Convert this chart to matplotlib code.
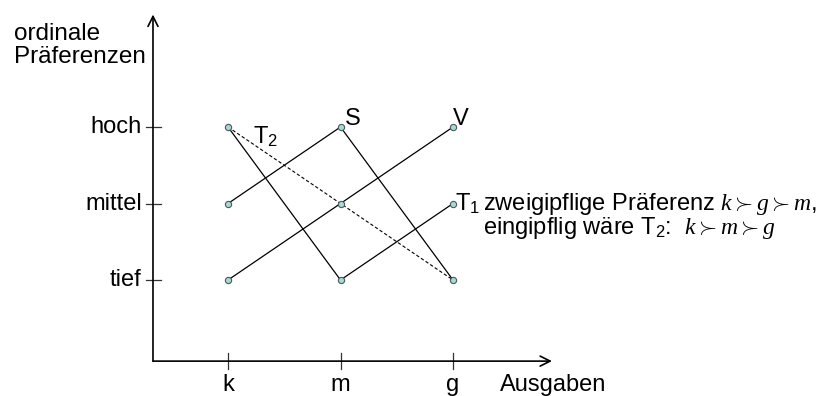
import matplotlib.pyplot as plt

plt.rcParams['font.family'] = ['Liberation Sans', 'DejaVu Sans']
plt.rcParams['mathtext.fontset'] = 'custom'
plt.rcParams['mathtext.rm'] = 'Liberation Sans'
plt.rcParams['mathtext.it'] = 'Liberation Serif:italic'

# Ausgaben (x) und ordinale Stufen (y)
ausgaben = ['k', 'm', 'g']
stufen = ['tief', 'mittel', 'hoch']
xpos = [1, 2, 3]
ypos = [1, 2, 3]

# Präferenzen je Wähler: Stufe bei k, m, g
S = [2, 3, 1]
V = [1, 2, 3]
T1 = [3, 1, 2]
T2_x = [1, 3]
T2_y = [3, 1]

fig = plt.figure(figsize=(8.32, 3.96), dpi=100)
ax = fig.add_axes([0, 0, 1, 1])
ax.set_xlim(-1.027, 6.369)
ax.set_ylim(-0.516, 4.66)
ax.axis('off')

fs = 17
x0, y0 = 0.333, -0.06

# Achsen mit Pfeilen
ax.annotate('', xy=(x0, 4.47), xytext=(x0, y0),
            arrowprops=dict(arrowstyle='->', lw=1.2, color='black', mutation_scale=18, shrinkA=0, shrinkB=0))
ax.annotate('', xy=(3.88, y0), xytext=(x0, y0),
            arrowprops=dict(arrowstyle='->', lw=1.2, color='black', mutation_scale=18, shrinkA=0, shrinkB=0))

# Ticks
for x, lab in zip(xpos, ausgaben):
    ax.plot([x, x], [y0 - 0.1, y0 + 0.1], color='#333333', lw=0.9)
    ax.text(x, y0 - 0.17, lab, ha='center', va='top', fontsize=fs)
for y, lab in zip(ypos, stufen):
    ax.plot([x0 - 0.06, x0 + 0.07], [y, y], color='#333333', lw=0.9)
    ax.text(x0 - 0.1, y, lab, ha='right', va='center', fontsize=fs)

ax.text(3.42, y0 - 0.17, 'Ausgaben', ha='left', va='top', fontsize=fs)
ax.text(-0.9, 4.36, 'ordinale\nPräferenzen', ha='left', va='top', fontsize=17.5, linespacing=1.05)

mk = dict(marker='o', markersize=4.5, markerfacecolor='#a9d6d6', markeredgecolor='#4a5a5a',
          markeredgewidth=0.8, color='black', lw=0.9)
ax.plot(T2_x, T2_y, color='black', lw=0.8, ls=(0, (3, 2)))
ax.plot(xpos, S, **mk)
ax.plot(xpos, V, **mk)
ax.plot(xpos, T1, **mk)

ax.text(2.04, 3.03, 'S', ha='left', va='baseline', fontsize=fs)
ax.text(3.0, 3.03, 'V', ha='left', va='baseline', fontsize=fs)
ax.text(1.22, 3.03, 'T$_2$', ha='left', va='top', fontsize=fs)
ax.text(3.02, 2.0, 'T$_1$', ha='left', va='center', fontsize=fs)
ax.text(3.267, 2.0, r'zweigipflige Präferenz $k \succ g \succ m$,', ha='left', va='center', fontsize=fs)
ax.text(3.267, 1.68, r'eingipflig wäre T$_2$:  $k \succ m \succ g$', ha='left', va='center', fontsize=fs)

fig.savefig('out.png', dpi=100)
